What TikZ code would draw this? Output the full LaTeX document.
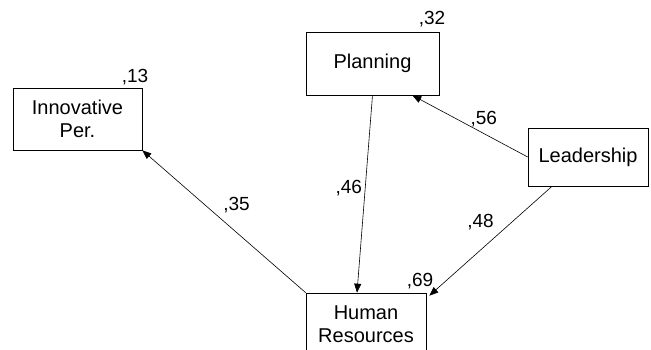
\documentclass[tikz,border=0pt]{standalone}
\usepackage{fontspec}
\setmainfont{Liberation Sans}
\usepackage{tikz}
\usetikzlibrary{arrows.meta}

\begin{document}
\begin{tikzpicture}[x=1pt,y=-1pt,
	var/.style={draw,line width=0.6pt,inner sep=0pt,align=center,
		font=\fontsize{20}{23}\selectfont},
	coef/.style={font=\fontsize{19}{21}\selectfont,inner sep=0pt},
	>={Triangle[length=9pt,width=7pt]}]
		\clip (0,0) rectangle (651,349);
		\fill[white] (0,0) rectangle (651,349);

		\node[var,minimum width=129pt,minimum height=62pt] (I) at (77.5,119) {Innovative\\Per.};
		\node[var,minimum width=133pt,minimum height=63pt] (P) at (372.5,63.5) {Planning};
		\node[var,minimum width=120pt,minimum height=58pt] (L) at (588,157) {Leadership};
		\node[var,minimum width=120pt,minimum height=62pt] (H) at (366,324) {Human\\Resources};

		\node[coef] at (135,77) {,13};
		\node[coef] at (432,19) {,32};
		\node[coef] at (420,281) {,69};
		%
		\path[->,line width=0.6pt]
		(P.south) edge node[coef,pos=0.47,left=3pt] {,46} ([xshift=-9pt]H.north)
		(L.west) edge node[coef,pos=0.38,above=6pt] {,56} ([xshift=-27pt]P.south east)
		([xshift=-36pt]L.south) edge node[coef,pos=0.44,above left=4pt] {,48} ([xshift=3pt,yshift=-3pt]H.north east)
		(H.north west) edge node[coef,pos=0.53,above right=4pt] {,35} (I.south east);
	\end{tikzpicture}
\end{document}
